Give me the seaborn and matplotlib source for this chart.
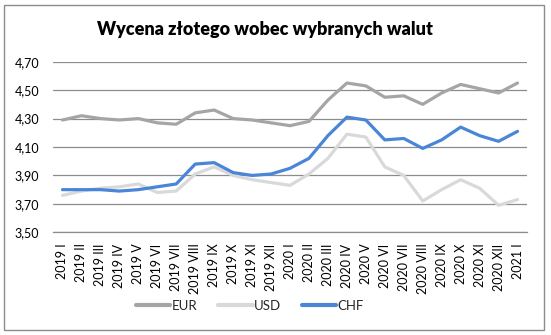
import matplotlib
matplotlib.use("Agg")
import matplotlib.pyplot as plt
from matplotlib.patches import Rectangle
from matplotlib.ticker import FuncFormatter
import seaborn as sns
import pandas as pd

months = ["2019 I", "2019 II", "2019 III", "2019 IV", "2019 V", "2019 VI", "2019 VII",
          "2019 VIII", "2019 IX", "2019 X", "2019 XI", "2019 XII", "2020 I", "2020 II",
          "2020 III", "2020 IV", "2020 V", "2020 VI", "2020 VII", "2020 VIII", "2020 IX",
          "2020 X", "2020 XI", "2020 XII", "2021 I"]

eur = [4.29, 4.32, 4.30, 4.29, 4.30, 4.27, 4.26, 4.34, 4.36, 4.30, 4.29, 4.27, 4.25,
       4.28, 4.43, 4.55, 4.53, 4.45, 4.46, 4.40, 4.48, 4.54, 4.51, 4.48, 4.55]
usd = [3.76, 3.79, 3.81, 3.82, 3.84, 3.78, 3.79, 3.91, 3.96, 3.90, 3.87, 3.85, 3.83,
       3.91, 4.02, 4.19, 4.17, 3.96, 3.90, 3.72, 3.80, 3.87, 3.81, 3.69, 3.73]
chf = [3.80, 3.80, 3.80, 3.79, 3.80, 3.82, 3.84, 3.98, 3.99, 3.92, 3.90, 3.91, 3.95,
       4.02, 4.18, 4.31, 4.29, 4.15, 4.16, 4.09, 4.15, 4.24, 4.18, 4.14, 4.21]

y_ticks = [3.50, 3.70, 3.90, 4.10, 4.30, 4.50, 4.70]

series_names = ["EUR", "USD", "CHF"]
colors = {"EUR": "#a5a5a5", "USD": "#d9d9d9", "CHF": "#4a86d8"}

df = pd.DataFrame({
    "miesiac": months * 3,
    "kurs": eur + usd + chf,
    "waluta": [n for n in series_names for _ in months],
})
df["poz"] = list(range(len(months))) * 3

sns.set_theme(style="white")
plt.rcParams["font.family"] = ["Lato", "DejaVu Sans"]

fig = plt.figure(figsize=(5.51, 3.35), dpi=100)
ax = fig.add_axes([53 / 551, 1 - 232.3 / 335, (527 - 53) / 551, (232.3 - 61.7) / 335])

# outer chart frame
fig.patches.append(Rectangle((4 / 551, 1 - 330 / 335), 540 / 551, 325 / 335,
                             transform=fig.transFigure, fill=False,
                             edgecolor="#8c8c8c", linewidth=1.0))

sns.lineplot(data=df, x="poz", y="kurs", hue="waluta", hue_order=series_names,
             palette=colors, linewidth=2.3, ax=ax, legend=True, sort=False)

ax.set_xlim(-0.5, len(months) - 0.5)
ax.set_ylim(y_ticks[0], y_ticks[-1])
ax.set_yticks(y_ticks)
ax.yaxis.set_major_formatter(FuncFormatter(lambda v, p: f"{v:.2f}".replace(".", ",")))
ax.grid(axis="y", color="#8c8c8c", linewidth=0.9)
ax.set_axisbelow(True)
for side in ["left", "right", "top"]:
    ax.spines[side].set_visible(False)
ax.spines["bottom"].set_color("#8c8c8c")
ax.spines["bottom"].set_linewidth(0.9)

ax.set_xticks(range(len(months)))
ax.set_xticklabels(months, rotation=90, fontsize=9, color="#000000")
ax.tick_params(axis="x", length=0, pad=8)
ax.tick_params(axis="y", length=0, labelsize=9, labelcolor="#000000", pad=10)
ax.set_xlabel("")
ax.set_ylabel("")

fig.text(265 / 551, 1 - 30 / 335, "Wycena złotego wobec wybranych walut",
         ha="center", va="center", fontsize=13, fontweight="heavy", color="#000000")

handles, labels = ax.get_legend_handles_labels()
for h in handles:
    h.set_linewidth(3)
ax.legend(handles, labels, loc="center", bbox_to_anchor=(250 / 551, 1 - 306 / 335),
          bbox_transform=fig.transFigure, ncol=3, frameon=False, fontsize=9.5,
          handlelength=2.6, handletextpad=0.1, columnspacing=1.6)

fig.savefig("out.png", dpi=100)
